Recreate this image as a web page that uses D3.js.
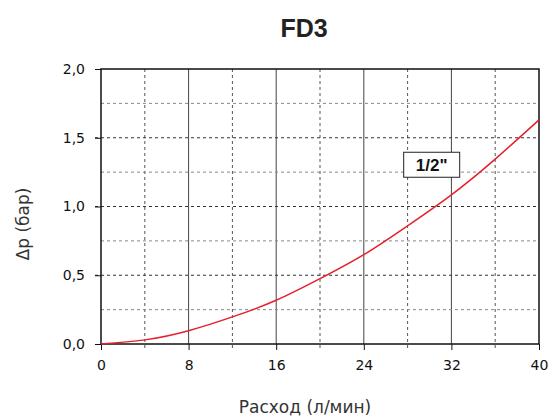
<!DOCTYPE html>
<html lang="en">
  <head>
    <meta charset="UTF-8" />
    <title>FD3</title>
    <script src="https://cdn.jsdelivr.net/npm/d3@7"></script>
    <style>
      body { margin: 0; background: #fff; }
      text { font-family: "DejaVu Sans", sans-serif; fill: #111; }
      .curve { fill: none; stroke: #e3202b; stroke-width: 1.5; }
    </style>
  </head>
  <body>
    <svg id="chart" width="549" height="417"></svg>
    <script>
      // flow (l/min) and pressure drop (bar)
      let flow = [0, 4, 8, 12, 16, 20, 24, 28, 32, 36, 40];
      let dp = [0, 0.03, 0.097, 0.197, 0.318, 0.475, 0.65, 0.86, 1.085, 1.345, 1.63];
      let xTicks = [0, 8, 16, 24, 32, 40];
      let xMinor = [4, 12, 20, 28, 36];
      let yTicks = [0, 0.5, 1, 1.5, 2];
      let yMinor = [0.25, 0.75, 1.25, 1.75];
      let seriesLabel = '1/2"';

      let svg = d3.select("#chart");
      let marginLeft = 101, marginTop = 69, bodyWidth = 438, bodyHeight = 275;
      let body = svg.append("g").attr("transform", "translate(" + marginLeft + "," + marginTop + ")");

      let xScale = d3.scaleLinear().domain([0, 40]).range([0, bodyWidth]);
      let yScale = d3.scaleLinear().domain([0, 2]).range([bodyHeight, 0]);
      let fmt = d3.format(".1f");

      // grid lines
      body.selectAll(".vmin").data(xMinor).join("line")
        .attr("x1", d => xScale(d)).attr("x2", d => xScale(d))
        .attr("y1", 0).attr("y2", bodyHeight + 5)
        .attr("stroke", "#555").attr("stroke-dasharray", "3,3");
      body.selectAll(".vmaj").data(xTicks.slice(1, -1)).join("line")
        .attr("x1", d => xScale(d)).attr("x2", d => xScale(d))
        .attr("y1", 0).attr("y2", bodyHeight)
        .attr("stroke", "#444").attr("stroke-width", 1);
      body.selectAll(".hmin").data(yMinor).join("line")
        .attr("x1", 0).attr("x2", bodyWidth)
        .attr("y1", d => yScale(d)).attr("y2", d => yScale(d))
        .attr("stroke", "#888").attr("stroke-dasharray", "3,3");
      body.selectAll(".hmaj").data(yTicks.slice(1, -1)).join("line")
        .attr("x1", -6).attr("x2", bodyWidth)
        .attr("y1", d => yScale(d)).attr("y2", d => yScale(d))
        .attr("stroke", "#333").attr("stroke-dasharray", "3,3");

      // axes
      body.append("g")
        .attr("transform", "translate(0," + bodyHeight + ")")
        .call(d3.axisBottom(xScale).tickValues(xTicks).tickSize(6).tickPadding(10))
        .call(g => g.select(".domain").remove())
        .call(g => g.selectAll("line").attr("stroke", "#111"))
        .call(g => g.selectAll("text").style("font-size", "14px").style("font-family", "'DejaVu Sans', sans-serif"));
      body.append("g")
        .call(d3.axisLeft(yScale).tickValues(yTicks).tickFormat(d => fmt(d).replace(".", ",")).tickSize(6).tickPadding(10))
        .call(g => g.select(".domain").remove())
        .call(g => g.selectAll("line").attr("stroke", "#111"))
        .call(g => g.selectAll("text").style("font-size", "14px").style("font-family", "'DejaVu Sans', sans-serif"));

      // plot frame
      body.append("rect")
        .attr("width", bodyWidth).attr("height", bodyHeight)
        .attr("fill", "none").attr("stroke", "#111").attr("stroke-width", 1.5);

      // curve
      let data = flow.map((f, i) => ({ q: f, p: dp[i] }));
      let valueLine = d3.line().x(d => xScale(d.q)).y(d => yScale(d.p)).curve(d3.curveNatural);
      body.append("path").datum(data).attr("d", valueLine).attr("class", "curve");

      // series label box
      let lx = xScale(30.2), ly = yScale(1.3);
      body.append("rect")
        .attr("x", lx - 28).attr("y", ly - 13).attr("width", 56).attr("height", 25)
        .attr("fill", "#fff").attr("stroke", "#222").attr("stroke-width", 1);
      body.append("text")
        .attr("x", lx).attr("y", ly + 6)
        .attr("text-anchor", "middle")
        .style("font-family", "'Liberation Sans', Arial, sans-serif")
        .style("font-weight", "bold").style("font-size", "17px")
        .text(seriesLabel);

      // titles
      svg.append("text")
        .attr("x", 304).attr("y", 37)
        .attr("text-anchor", "middle")
        .style("font-family", "'Liberation Sans', Arial, sans-serif")
        .style("font-weight", "bold").style("font-size", "25px")
        .style("fill", "#222")
        .text("FD3");
      svg.append("text")
        .attr("x", 305).attr("y", 413)
        .attr("text-anchor", "middle")
        .style("font-size", "17px").style("fill", "#333")
        .text("Расход (л/мин)");
      svg.append("text")
        .attr("transform", "translate(29,224) rotate(-90)")
        .attr("text-anchor", "middle")
        .style("font-size", "17px").style("fill", "#333")
        .text("Δp (бар)");
    </script>
  </body>
</html>
